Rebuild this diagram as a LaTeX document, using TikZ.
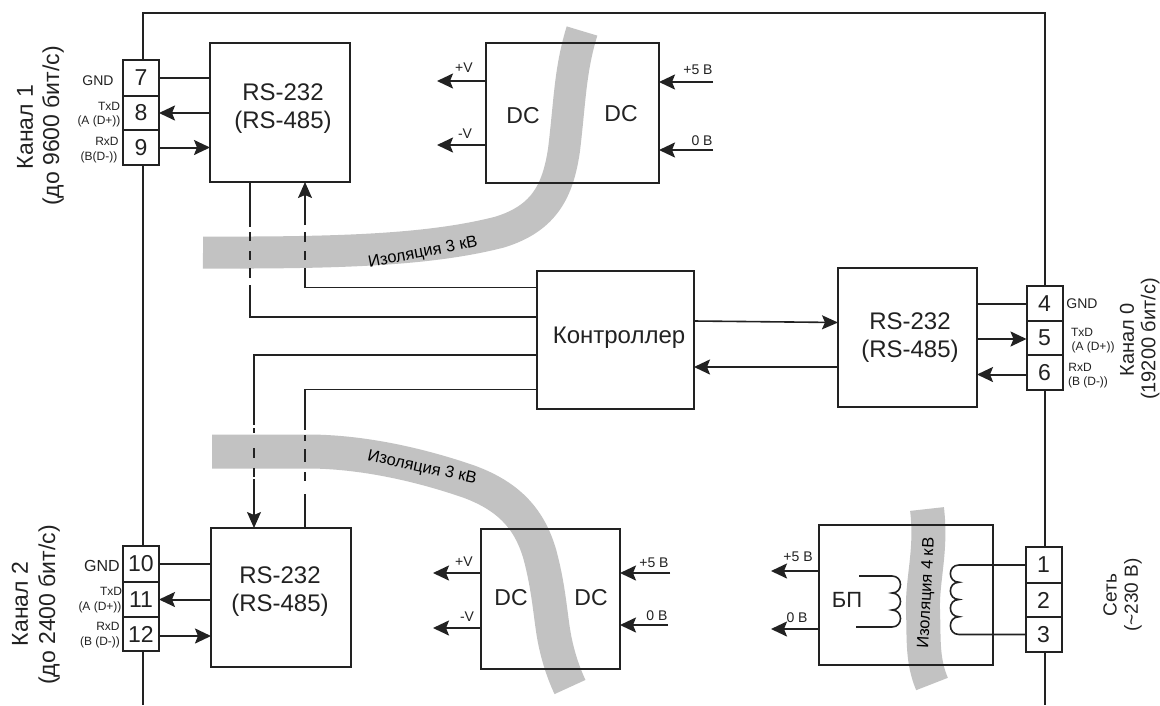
\documentclass[tikz,border=0pt]{standalone}
\usepackage{fontspec}
\setmainfont{Liberation Sans}
\usetikzlibrary{arrows.meta}
\newcommand\myfs[1]{\fontsize{#1}{#1}\selectfont}
\definecolor{ink}{HTML}{222222}
\definecolor{band}{HTML}{C2C2C2}
\tikzset{
  block/.style={draw=ink,line width=2pt,inner sep=0pt,outer sep=0pt},
  termbox/.style={draw=ink,line width=2pt,inner sep=0pt,outer sep=0pt,minimum width=36pt,text=ink,font=\myfs{23}},
  lab/.style={inner sep=0pt,outer sep=0pt,text=ink,align=center},
  big/.style={lab,font=\fontsize{24}{28}\selectfont},
  tiny/.style={lab,font=\myfs{12}},
  small/.style={lab,font=\myfs{14}},
  side/.style={lab,rotate=90,font=\myfs{23}},
  sider/.style={lab,rotate=90,font=\myfs{20}},
  iso/.style={lab,font=\myfs{16.5},text=black},
  isoband/.style={draw=band,line width=32pt},
  wire/.style={draw=ink,line width=2pt},
  thin wire/.style={draw=ink,line width=1.6pt},
  arr/.style={draw=ink,line width=2pt,-{Stealth[length=16pt,width=15pt,inset=3pt]}},
  thin arr/.style={draw=ink,line width=1.6pt,-{Stealth[length=16pt,width=14pt,inset=3pt]}},
}
\begin{document}
\begin{tikzpicture}[x=1pt,y=-1pt]
\useasboundingbox (0,0) rectangle (1160,705);
\fill[white] (0,0) rectangle (1160,705);
% isolation bands
\draw[isoband] (203,252.5) .. controls (340,253) and (430,250) .. (500,232) .. controls (545,218) and (558,190) .. (564,150) .. controls (570,100) and (570,70) .. (582,31);
\draw[isoband,line width=34pt] (212,451.5) -- (310,451.5) .. controls (370,452) and (430,468) .. (470,482) .. controls (510,497) and (530,520) .. (540,555) .. controls (548,585) and (550,610) .. (553,630) .. controls (556,650) and (562,670) .. (570,687);
\draw[isoband,line width=34pt] (927,509) .. controls (932,550) and (922,580) .. (923,610) .. controls (924,640) and (922,660) .. (932,684);
% blocks
\node[block,minimum width=140pt,minimum height=139pt] (rs1) at (280,112.5) {};
\node[block,minimum width=140pt,minimum height=139pt] (rs2) at (281,597.5) {};
\node[block,minimum width=139pt,minimum height=139pt] (rs0) at (907.5,337.5) {};
\node[block,minimum width=157pt,minimum height=138pt] (ctrl) at (615.5,340) {};
\node[block,minimum width=173pt,minimum height=140pt] (dc1) at (572.5,113) {};
\node[block,minimum width=139pt,minimum height=140pt] (dc2) at (550.5,599) {};
\node[block,minimum width=174pt,minimum height=140pt] (bp) at (906,595) {};
% block texts
\node[big] (rs1t) at (283,109) {RS-232\\(RS-485)};
\node[big] (rs2t) at (280,592) {RS-232\\(RS-485)};
\node[big] (rs0t) at (910,338) {RS-232\\(RS-485)};
\node[big,font=\myfs{24}] (ctrlt) at (619,338) {Контроллер};
\node[big,font=\myfs{23}] (dc1l) at (523,116) {DC};
\node[big,font=\myfs{23}] (dc1r) at (621,114) {DC};
\node[big,font=\myfs{23}] (dc2l) at (511,598) {DC};
\node[big,font=\myfs{23}] (dc2r) at (591,598) {DC};
\node[big,font=\myfs{22}] (bpt) at (847,600) {БП};
% terminals
\foreach \n/\x/\y/\h in {7/141/78/36,8/141/113/34,9/141/147.5/35,
  10/141/564/36,11/141/599.5/35,12/141/634/34,
  4/1044.5/303.5/35,5/1044.5/338/34,6/1044.5/372.5/35,
  1/1043.5/565/36,2/1043.5/600/34,3/1043.5/634.5/35}
  \node[termbox,minimum height=\h pt] (t\n) at (\x,\y) {\n};
% frame
\coordinate (fbl) at (143,705);
\coordinate (fbr) at (1045,705);
\coordinate (ftl) at (143,13);
\coordinate (ftr) at (1045,13);
\draw[wire] ([xshift=2pt]t7.north) -- (ftl) -- (ftr) -- ([xshift=0.5pt]t4.north);
\draw[wire] ([xshift=2pt]t9.south) -- ([xshift=2pt]t10.north);
\draw[wire] ([xshift=2pt]t12.south) -- (fbl);
\draw[wire] ([xshift=0.5pt]t6.south) -- ([xshift=1.5pt]t1.north);
\draw[wire] ([xshift=1.5pt]t3.south) -- (fbr);
% terminal connectors
\draw[wire] (t7.east) -- (t7.east -| rs1.west);
\draw[arr] (t8.east -| rs1.west) -- (t8.east);
\draw[arr] (t9.east) -- (t9.east -| rs1.west);
\draw[wire] (t10.east) -- (t10.east -| rs2.west);
\draw[arr] (t11.east -| rs2.west) -- (t11.east);
\draw[arr] ([yshift=-2pt]t12.east) -- ([yshift=-2pt]t12.east -| rs2.west);
\draw[wire] (t4.west -| rs0.east) -- (t4.west);
\draw[arr] ([yshift=-1pt]t5.west -| rs0.east) -- ([yshift=-1pt]t5.west);
\draw[arr] ([yshift=-2pt]t6.west) -- ([yshift=-2pt]t6.west -| rs0.east);
% controller links
\draw[thin wire,dash pattern=on 45pt off 5pt on 9pt off 10pt on 9pt off 8pt on 10pt off 7pt on 1000pt]
  ([xshift=-30pt]rs1.south) |- ([yshift=23pt]ctrl.west);
\draw[thin arr,dash pattern=on 251.5pt off 8pt on 9pt off 9pt on 10pt off 7pt on 1000pt]
  ([yshift=52.5pt]ctrl.west) -| ([xshift=25pt]rs1.south);
\draw[thin arr,dash pattern=on 353pt off 3pt on 5pt off 15pt on 10pt off 10pt on 9pt off 2pt on 1000pt]
  ([yshift=-15pt]ctrl.west) -| ([xshift=-27pt]rs2.north);
\draw[thin wire,dash pattern=on 272.5pt off 5pt on 6pt off 8pt on 13pt off 10pt on 9pt off 13pt on 1000pt]
  ([yshift=-49.5pt]ctrl.west) -| ([xshift=24pt]rs2.north);
\draw[thin arr] ([yshift=19pt]ctrl.east) -- ([yshift=15pt]rs0.west);
\draw[arr] ([yshift=-29.5pt]rs0.west) -- ([yshift=-27pt]ctrl.east);
% DC 1 arrows
\coordinate (a1) at (437,81); \coordinate (a2) at (437,145);
\coordinate (a3) at (713,82); \coordinate (a4) at (713,150);
\draw[arr] (a1 -| dc1.west) -- (a1);
\draw[arr] (a2 -| dc1.west) -- (a2);
\draw[arr] (a3) -- (a3 -| dc1.east);
\draw[arr] (a4) -- (a4 -| dc1.east);
% DC 2 arrows
\coordinate (b1) at (433,573); \coordinate (b2) at (433,628);
\coordinate (b3) at (670,573); \coordinate (b4) at (668,625);
\draw[arr] (b1 -| dc2.west) -- (b1);
\draw[arr] (b2 -| dc2.west) -- (b2);
\draw[arr] (b3) -- (b3 -| dc2.east);
\draw[arr] (b4) -- (b4 -| dc2.east);
% BP arrows
\coordinate (c1) at (771,571); \coordinate (c2) at (771,629);
\draw[arr] (c1 -| bp.west) -- (c1);
\draw[arr] (c2 -| bp.west) -- (c2);
% coils
\coordinate (s1) at (859,576); \coordinate (s2) at (856,627);
\draw[thin wire] (s1) -- (892,576) .. controls (903.3,576) and (903.3,593) .. (892,593)
  .. controls (903.3,593) and (903.3,610) .. (892,610)
  .. controls (903.3,610) and (903.3,627) .. (892,627) -- (s2);
\draw[thin wire] (t1.west) -- (959,565) .. controls (947.5,565) and (947.5,582.25) .. (959,582.25)
  .. controls (947.5,582.25) and (947.5,599.5) .. (959,599.5)
  .. controls (947.5,599.5) and (947.5,616.75) .. (959,616.75)
  .. controls (947.5,616.75) and (947.5,634.5) .. (959,634.5) -- (t3.west);
% voltage labels
\node[small] (l1) at (464,68) {+V};
\node[small] (l2) at (465,134) {-V};
\node[small] (l3) at (698,70) {+5 В};
\node[small] (l4) at (702,141) {0 В};
\node[small] (l5) at (464,562) {+V};
\node[small] (l6) at (467,617) {-V};
\node[small] (l7) at (654,563) {+5 В};
\node[small] (l8) at (657,616) {0 В};
\node[small] (l9) at (798,557) {+5 В};
\node[small] (l10) at (797,618) {0 В};
% pin labels
\node[small] (g1) at (98,81) {GND};
\node[tiny] (g2) at (109,106) {TxD};
\node[tiny] (g3) at (99,121) {(A (D+))};
\node[tiny] (g4) at (107,141) {RxD};
\node[tiny] (g5) at (99,157) {(B(D-))};
\node[lab,font=\myfs{16}] (h1) at (102,566) {GND};
\node[tiny] (h2) at (111,591) {TxD};
\node[tiny] (h3) at (100,607) {(A (D+))};
\node[tiny] (h4) at (108,626) {RxD};
\node[tiny] (h5) at (100,642) {(B (D-))};
\node[small] (k1) at (1082,304) {GND};
\node[tiny] (k2) at (1082,332) {TxD};
\node[tiny] (k3) at (1093,347) {(A (D+))};
\node[tiny] (k4) at (1080,367) {RxD};
\node[tiny] (k5) at (1088,382) {(B (D-))};
% side labels
\node[side] (c1a) at (25,127) {Канал 1};
\node[side] (c1b) at (53,126) {(до 9600 бит/с)};
\node[side] (c2a) at (20,604) {Канал 2};
\node[side] (c2b) at (49,605) {(до 2400 бит/с)};
\node[sider] (c0a) at (1127,340) {Канал 0};
\node[sider] (c0b) at (1150,339) {(19200 бит/с)};
\node[sider,font=\myfs{19}] (n1) at (1110,595) {Сеть};
\node[sider,font=\myfs{19}] (n2) at (1133,595) {(\textasciitilde230 В)};
% isolation labels
\node[iso,rotate=11] (i1) at (423,253) {Изоляция 3 кВ};
\node[iso,rotate=-12] (i2) at (422,468) {Изоляция 3 кВ};
\node[iso,rotate=87] (i3) at (927,593) {Изоляция 4 кВ};
\end{tikzpicture}
\end{document}
